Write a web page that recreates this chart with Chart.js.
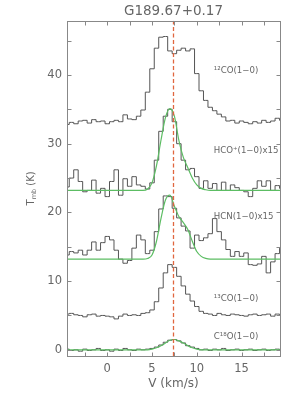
<!DOCTYPE html>
<html>
<head>
<meta charset="utf-8">
<script src="https://cdn.jsdelivr.net/npm/chart.js@4"></script>
<style>
html, body { margin: 0; padding: 0; background: #fff; }
</style>
</head>
<body>
<canvas id="specChart" width="300" height="399"></canvas>
<script>
// velocity channels (km/s)
var velocity = [-4.5,-4,-3.5,-3,-2.5,-2,-1.5,-1,-0.5,0,0.5,1,1.5,2,2.5,3,3.5,4,4.5,5,5.5,6,6.5,7,7.5,8,8.5,9,9.5,10,10.5,11,11.5,12,12.5,13,13.5,14,14.5,15,15.5,16,16.5,17,17.5,18,18.5,19,19.5];

// spectra (K), already offset as in the plot
var co12 = [32.8,33.1,32.9,33.3,33.4,33.0,33.5,33.2,33.3,32.9,
            33.2,33.4,33.2,34.2,33.6,33.5,34.0,34.9,37.5,40.9,
            43.9,45.5,45.6,43.5,43.1,43.6,43.9,43.5,43.8,40.2,
            37.7,36.3,35.3,34.8,34.3,33.9,33.3,33.4,33.0,33.3,
            33.1,32.9,33.2,33.0,33.4,33.1,33.3,33.7,33.4];
var hcop = [23.7,25.0,26.2,24.5,23.0,23.2,24.7,22.8,23.5,22.3,
            24.5,26.2,22.5,24.9,23.8,25.2,24.0,23.8,23.4,24.3,
            27.6,31.8,34.0,35.0,33.2,30.0,27.6,26.2,26.4,25.2,
            23.5,24.6,23.5,24.2,23.2,24.4,23.2,24.0,23.6,23.2,
            23.0,22.3,23.5,24.6,23.8,24.6,23.2,23.9,23.5];
var hcopFit = [23.2,23.2,23.2,23.2,23.2,23.2,23.2,23.2,23.2,23.2,
               23.2,23.2,23.2,23.2,23.2,23.2,23.2,23.2,23.4,24.3,
               26.8,30.5,33.8,35.1,34.0,30.5,28.0,26.5,25.0,24.0,
               23.5,23.3,23.2,23.2,23.2,23.2,23.2,23.2,23.2,23.2,
               23.2,23.2,23.2,23.2,23.2,23.2,23.2,23.2,23.2];
var hcn = [13.8,14.3,14.1,14.5,13.8,14.5,15.7,14.5,15.6,16.5,
           16.0,14.5,13.2,12.6,13.0,14.8,16.7,16.0,14.0,14.5,
           17.2,20.5,22.4,22.3,20.6,19.2,18.0,17.3,14.8,16.7,
           15.9,16.3,16.9,19.1,17.2,16.0,14.6,13.6,14.3,13.6,
           14.1,12.4,12.3,12.5,13.6,11.2,12.8,14.0,14.8];
var hcnFit = [13.2,13.2,13.2,13.2,13.2,13.2,13.2,13.2,13.2,13.2,
              13.2,13.2,13.2,13.2,13.2,13.2,13.2,13.2,13.3,13.8,
              15.8,19.1,21.8,22.5,20.9,19.4,18.5,17.5,15.8,14.3,
              13.6,13.3,13.2,13.2,13.2,13.2,13.2,13.2,13.2,13.2,
              13.2,13.2,13.2,13.2,13.2,13.2,13.2,13.2,13.2];
var co13 = [5.2,5.3,5.1,5.0,4.8,5.1,5.2,4.9,5.0,4.9,
            4.8,4.5,4.9,5.2,5.0,5.1,5.0,5.3,5.4,5.8,
            7.0,9.0,11.2,12.4,12.0,10.7,9.3,8.1,7.1,6.3,
            5.6,5.3,5.2,5.0,5.3,5.1,5.0,5.2,5.1,5.0,
            4.9,5.1,5.2,5.0,5.1,5.2,4.9,5.2,5.1];
var c18o = [0.1,-0.1,0.0,-0.2,0.1,-0.1,0.0,0.2,-0.1,0.0,
            -0.2,0.1,-0.1,0.2,0.0,-0.1,0.1,0.0,0.1,0.2,
            0.4,0.7,1.1,1.4,1.5,1.3,1.0,0.6,0.4,0.2,
            0.0,0.1,-0.1,0.1,0.0,0.2,-0.1,0.0,0.1,-0.1,
            0.0,0.1,-0.1,0.0,0.1,-0.1,0.0,0.1,0.0];
var c18oFit = [0,0,0,0,0,0,0,0,0,0,
               0,0,0,0,0,0,0,0,0,0.1,
               0.3,0.6,1.0,1.4,1.5,1.3,1.0,0.6,0.3,0.1,
               0,0,0,0,0,0,0,0,0,0,
               0,0,0,0,0,0,0,0,0];

var vlsr = 7.4;
var xRange = [-4.5, 19.3];
var yRange = [-0.9, 47.9];

var FONT = 'DejaVu Sans';
var TEXT = '#666';

function pts(arr) {
    return arr.map(function (t, i) { return { x: velocity[i], y: t }; });
}

function spectrum(arr) {
    return { data: pts(arr), borderColor: '#555', borderWidth: 1, stepped: 'middle', order: 2 };
}

function fit(arr) {
    return { data: pts(arr), borderColor: '#5cbd63', borderWidth: 1.2, cubicInterpolationMode: 'monotone', order: 1 };
}

// frame, inward ticks, line names and y title
var framePlugin = {
    id: 'frame',
    afterDraw: function (chart) {
        var ctx = chart.ctx, a = chart.chartArea;
        var x = chart.scales.x, y = chart.scales.y;
        ctx.save();
        ctx.strokeStyle = '#888';
        ctx.lineWidth = 1;
        var l = Math.round(a.left) + 0.5, r = Math.round(a.right) + 0.5;
        var t = Math.round(a.top) + 0.5, b = Math.round(a.bottom) + 0.5;
        ctx.strokeRect(l, t, r - l, b - t);
        ctx.beginPath();
        for (var v = -2.5; v < xRange[1]; v += 2.5) {
            var px = Math.round(x.getPixelForValue(v)) + 0.5;
            ctx.moveTo(px, b); ctx.lineTo(px, b - 4);
            ctx.moveTo(px, t); ctx.lineTo(px, t + 4);
        }
        for (var k = 0; k < yRange[1]; k += 5) {
            var py = Math.round(y.getPixelForValue(k)) + 0.5;
            ctx.moveTo(l, py); ctx.lineTo(l + 4, py);
            ctx.moveTo(r, py); ctx.lineTo(r - 4, py);
        }
        ctx.stroke();

        ctx.fillStyle = TEXT;
        ctx.font = '8.6px "' + FONT + '"';
        ctx.textBaseline = 'middle';
        ctx.textAlign = 'left';
        var names = [
            ['\u00b9\u00b2CO(1\u22120)', 11.9, 40.6],
            ['HCO\u207a(1\u22120)x15', 11.9, 28.9],
            ['HCN(1\u22120)x15', 11.9, 19.4],
            ['\u00b9\u00b3CO(1\u22120)', 11.9, 7.4],
            ['C\u00b9\u2078O(1\u22120)', 11.9, 1.9]
        ];
        names.forEach(function (n) {
            ctx.fillText(n[0], x.getPixelForValue(n[1]), y.getPixelForValue(n[2]));
        });

        // T_mb (K)
        ctx.translate(30, (a.top + a.bottom) / 2);
        ctx.rotate(-Math.PI / 2);
        ctx.textBaseline = 'alphabetic';
        ctx.font = '10px "' + FONT + '"';
        var w1 = ctx.measureText('T').width;
        ctx.font = '6.5px "' + FONT + '"';
        var w2 = ctx.measureText('mb').width;
        ctx.font = '10px "' + FONT + '"';
        var w3 = ctx.measureText(' (K)').width;
        var sx = -(w1 + w2 + w3) / 2;
        ctx.fillText('T', sx, 4);
        ctx.font = '6.5px "' + FONT + '"';
        ctx.fillText('mb', sx + w1, 6);
        ctx.font = '10px "' + FONT + '"';
        ctx.fillText(' (K)', sx + w1 + w2, 4);
        ctx.restore();
    }
};

var ctx = document.getElementById('specChart').getContext('2d');
var myChart = new Chart(ctx, {
    type: 'line',
    data: {
        datasets: [
            { data: [{ x: vlsr, y: yRange[0] }, { x: vlsr, y: yRange[1] }],
              borderColor: '#e0663f', borderWidth: 1.3, borderDash: [4, 2.5], order: 0 },
            fit(hcopFit), fit(hcnFit), fit(c18oFit),
            spectrum(co12), spectrum(hcop), spectrum(hcn), spectrum(co13), spectrum(c18o)
        ]
    },
    options: {
        responsive: false,
        animation: false,
        layout: { padding: { left: 0, right: 20, top: 0, bottom: 0 } },
        elements: { point: { radius: 0 } },
        plugins: {
            legend: { display: false },
            tooltip: { enabled: false },
            title: {
                display: true,
                text: 'G189.67+0.17',
                fullSize: false,
                color: TEXT,
                font: { family: FONT, size: 13.5, weight: 'normal' },
                padding: { top: 3, bottom: 1.5 }
            }
        },
        scales: {
            x: {
                type: 'linear',
                min: xRange[0],
                max: xRange[1],
                afterFit: function (s) { s.height = 43; },
                grid: { display: false, drawTicks: false },
                border: { display: false },
                ticks: { stepSize: 5, includeBounds: false, maxRotation: 0, padding: 6,
                         color: TEXT, font: { family: FONT, size: 11.5 } },
                title: { display: true, text: 'V (km/s)', color: TEXT,
                         font: { family: FONT, size: 12 }, padding: { top: 0, bottom: 8 } }
            },
            y: {
                type: 'linear',
                min: yRange[0],
                max: yRange[1],
                afterFit: function (s) { s.width = 67; },
                grid: { display: false, drawTicks: false },
                border: { display: false },
                ticks: { stepSize: 10, includeBounds: false, padding: 5,
                         color: TEXT, font: { family: FONT, size: 11.5 } }
            }
        }
    },
    plugins: [framePlugin]
});
</script>
</body>
</html>
